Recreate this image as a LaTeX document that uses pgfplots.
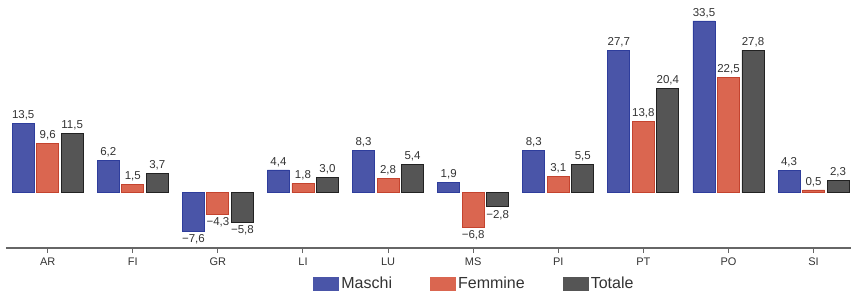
\documentclass[border=0pt]{standalone}
\usepackage{fontspec}
\setmainfont{Liberation Sans}
\usepackage{pgfplots}
\usepackage{pgfplotstable}
\pgfplotsset{compat=1.18}
\definecolor{cM}{HTML}{4A55A8}
\definecolor{cMe}{HTML}{2E3D9C}
\definecolor{cF}{HTML}{DA6650}
\definecolor{cFe}{HTML}{C4432E}
\definecolor{cT}{HTML}{555555}
\definecolor{cTe}{HTML}{222222}
\definecolor{txt}{HTML}{333333}
\makeatletter
\newcommand\barlab{\pgfmathfloatgetflagstomacro\pgfplotspointmeta\fl\ifnum\fl=2 −\fi\pgfmathfloatabs@\pgfplotspointmeta\pgfmathprintnumber[fixed,fixed zerofill,precision=1,use comma,assume math mode=true]{\pgfmathresult}}
\makeatother
\pgfplotstableread{
x M F T
0 13.5 9.6 11.5
1 6.2 1.5 3.7
2 -7.6 -4.3 -5.8
3 4.4 1.8 3.0
4 8.3 2.8 5.4
5 1.9 -6.8 -2.8
6 8.3 3.1 5.5
7 27.7 13.8 20.4
8 33.5 22.5 27.8
9 4.3 0.5 2.3
}\data
\begin{document}
\begin{tikzpicture}
\begin{axis}[
  scale only axis, width=845pt, height=248pt,
  xmin=-0.49, xmax=9.44, ymin=-10.84, ymax=37.6,
  axis y line=none, axis x line*=bottom,
  axis line style={draw=gray!80!black, line width=1.2pt, -},
  xtick=data, xticklabels={AR,FI,GR,LI,LU,MS,PI,PT,PO,SI},
  tick align=outside, major tick length=5pt,
  tick style={draw=gray!80!black, line width=1pt},
  ticklabel style={font=\fontsize{11}{13}\selectfont, text=txt},
  xticklabel style={yshift=-1pt},
  ybar=2.5pt, bar width=22pt,
  clip=false,
  nodes near coords={\barlab},
  nodes near coords style={font=\fontsize{11.5}{13}\selectfont, text=txt, inner sep=3pt},
  legend style={at={(0.36,0)}, anchor=north west, yshift=-25pt, draw=none, fill=none,
    font=\fontsize{16}{18}\selectfont, text=txt, legend columns=3,
    /tikz/every even column/.append style={column sep=36pt}},
  legend image code/.code={\draw[#1, draw=none] (0pt,-7pt) rectangle (26pt,7pt);},
]
\addplot[fill=cM, draw=cMe, line width=0.8pt] table[x=x,y=M]{\data};
\addplot[fill=cF, draw=cFe, line width=0.8pt] table[x=x,y=F]{\data};
\addplot[fill=cT, draw=cTe, line width=0.8pt] table[x=x,y=T]{\data};
\legend{Maschi,Femmine,Totale}
\end{axis}
\pgfresetboundingbox
\path[use as bounding box] ([shift={(-6pt,-48pt)}]current axis.south west) rectangle (current axis.north east);
\end{tikzpicture}
\end{document}
